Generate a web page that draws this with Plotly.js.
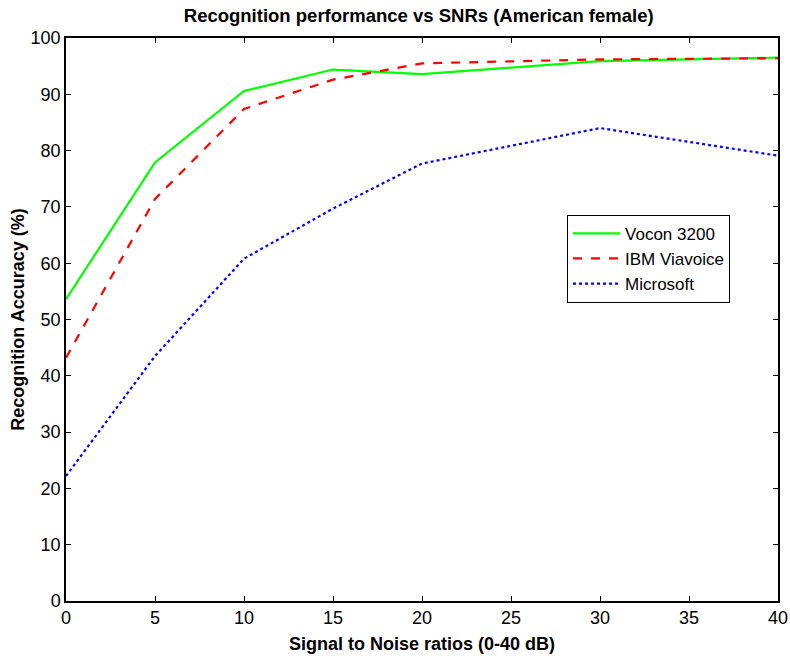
<!DOCTYPE html>
<html>
<head>
<meta charset="utf-8">
<script src="https://cdn.plot.ly/plotly-3.0.1.min.js"></script>
<style>html,body{margin:0;padding:0;background:#fff;}#chart{width:790px;height:659px;}</style>
</head>
<body>
<div id="chart"></div>
<script>
const snr = [0, 5, 10, 15, 20, 30, 40];
const vocon = [53.6, 77.9, 90.6, 94.4, 93.6, 95.9, 96.5];
const ibm = [43.2, 71.4, 87.4, 92.6, 95.5, 96.2, 96.4];
const microsoft = [22.2, 43.5, 60.8, 69.7, 77.7, 84.0, 79.1];
const xTicks = [0, 5, 10, 15, 20, 25, 30, 35, 40];
const yTicks = [0, 10, 20, 30, 40, 50, 60, 70, 80, 90, 100];

const font = 'Arial, "Liberation Sans", sans-serif';
const traces = [
  {x: snr, y: vocon, name: 'Vocon 3200', mode: 'lines', line: {color: '#00ff00', width: 2.2}},
  {x: snr, y: ibm, name: 'IBM Viavoice', mode: 'lines', line: {color: '#ff0000', width: 2.2, dash: 'dash'}},
  {x: snr, y: microsoft, name: 'Microsoft', mode: 'lines', line: {color: '#0000ff', width: 2.2, dash: 'dot'}}
];
const layout = {
  width: 790, height: 659,
  margin: {l: 66, r: 12, t: 38, b: 58},
  paper_bgcolor: '#fff', plot_bgcolor: '#fff',
  font: {family: font, size: 18, color: '#000'},
  title: {text: '<b>Recognition performance vs SNRs (American female)</b>', font: {family: font, size: 18.5, color: '#000'}, x: 0.53, xanchor: 'center', y: 0.977, yanchor: 'middle'},
  xaxis: {
    range: [0, 40], tickvals: xTicks, ticktext: xTicks.map(String),
    ticks: 'inside', ticklen: 5, tickcolor: '#000', mirror: 'ticks',
    showline: true, linecolor: '#000', linewidth: 1.5, showgrid: false, zeroline: false,
    tickfont: {family: font, size: 18},
    title: {text: '<b>Signal to Noise ratios (0-40 dB)</b>', font: {family: font, size: 18}, standoff: 10}
  },
  yaxis: {
    range: [0, 100], tickvals: yTicks, ticktext: yTicks.map(String),
    ticks: 'inside', ticklen: 5, tickcolor: '#000', mirror: 'ticks',
    showline: true, linecolor: '#000', linewidth: 1.5, showgrid: false, zeroline: false,
    tickfont: {family: font, size: 18},
    title: {text: '<b>Recognition Accuracy (%)</b>', font: {family: font, size: 18}, standoff: 1}
  },
  showlegend: true,
  legend: {x: 0.7037, y: 0.686, xanchor: 'left', yanchor: 'top', bgcolor: '#fff', bordercolor: '#000', borderwidth: 1, font: {family: font, size: 17}, tracegroupgap: 0, itemwidth: 47}
};
Plotly.newPlot('chart', traces, layout, {displayModeBar: false});
</script>
</body>
</html>
